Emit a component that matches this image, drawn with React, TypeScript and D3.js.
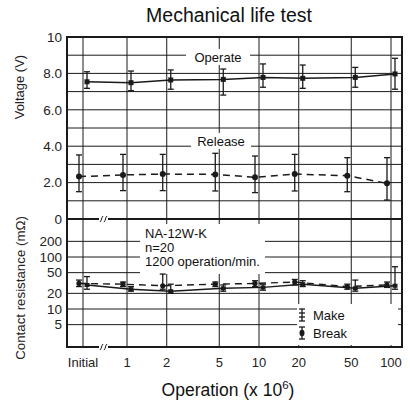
import React from "react";
import * as d3 from "d3";

const categories = ["Initial", "1", "2", "5", "10", "20", "50", "100"];
const opsValues = [null, 1, 2, 5, 10, 20, 50, 100];

const operateMean = [7.54, 7.49, 7.64, 7.67, 7.78, 7.73, 7.78, 7.97];
const operateLow = [7.18, 7.05, 7.13, 6.81, 7.24, 7.18, 7.24, 7.13];
const operateHigh = [8.09, 8.13, 8.19, 8.24, 8.52, 8.46, 8.33, 8.83];

const releaseMean = [2.33, 2.42, 2.47, 2.45, 2.29, 2.47, 2.38, 1.96];
const releaseLow = [1.5, 1.56, 1.56, 1.54, 1.45, 1.54, 1.5, 1.04];
const releaseHigh = [3.52, 3.55, 3.55, 3.61, 3.46, 3.55, 3.37, 3.37];

const makeMean = [29, 24, 22, 25, 26, 30, 25, 28];
const makeLow = [24, 22, 20, 22, 23, 27, 22, 24];
const makeHigh = [42, 27, 30, 29, 30, 35, 36, 65];

const breakMean = [31, 30, 28, 30, 31, 33, 27, 29];
const breakLow = [27, 27, 24, 27, 27, 29, 24, 26];
const breakHigh = [36, 33, 47, 33, 35, 37, 30, 33];

const voltTicks = [10, 8, 6, 4, 2, 0];
const voltTickLabels = ["10", "8.0", "6.0", "4.0", "2.0", "0"];
const voltGrid = [1, 2, 3, 4, 5, 6, 7, 8, 9];
const resTicks = [200, 100, 50, 20, 10, 5];

const FONT = "'Liberation Sans', Arial, sans-serif";
const INK = "#1a1a1a";

export default function App() {
  const left = 67, right = 402, top = 37, bottom = 347;
  const x = d3.scaleLog().domain([1, 100]).range([127, 391]);
  const xInitial = 83;
  const xPos = (i: number) => (opsValues[i] == null ? xInitial : x(opsValues[i] as number));
  const yV = d3.scaleLinear().domain([0, 10]).range([219, top]);
  const yR = d3.scaleLog().domain([10, 100]).range([309, 257]);

  const lineV = (vals: number[], off: number) =>
    d3.line<number>().x((_, i) => xPos(i) + off).y((d) => yV(d))(vals) as string;
  const lineR = (vals: number[], off: number) =>
    d3.line<number>().x((_, i) => xPos(i) + off).y((d) => yR(d))(vals) as string;

  const errBars = (lo: number[], hi: number[], y: (v: number) => number, off: number, key: string) =>
    lo.map((l, i) => {
      const cx = xPos(i) + off;
      return (
        <g key={key + i} stroke={INK} strokeWidth={1.3}>
          <line x1={cx} x2={cx} y1={y(l)} y2={y(hi[i])} />
          <line x1={cx - 3} x2={cx + 3} y1={y(l)} y2={y(l)} />
          <line x1={cx - 3} x2={cx + 3} y1={y(hi[i])} y2={y(hi[i])} />
        </g>
      );
    });

  return (
    <svg width={410} height={402} style={{ display: "block", position: "absolute", left: 0, top: 0 }} fontFamily={FONT}>
      <rect width={410} height={402} fill="#fff" />
      <text x={229} y={22} textAnchor="middle" fontSize={19.5} fill="#111">Mechanical life test</text>

      {/* gridlines */}
      <g stroke={INK} strokeWidth={1}>
        {categories.map((c, i) => (
          <line key={"vx" + c} x1={xPos(i)} x2={xPos(i)} y1={top} y2={bottom} />
        ))}
        {voltGrid.map((v) => (
          <line key={"vg" + v} x1={left} x2={right} y1={yV(v)} y2={yV(v)} />
        ))}
        {resTicks.map((v) => (
          <line key={"rg" + v} x1={left} x2={right} y1={yR(v)} y2={yR(v)} />
        ))}
      </g>

      {/* white label backgrounds */}
      <rect x={186} y={49} width={64} height={16} fill="#fff" />
      <rect x={191} y={133} width={60} height={16} fill="#fff" />
      <rect x={140} y={224} width={125} height={50} fill="#fff" />
      <rect x={297} y={304} width={101} height={41} fill="#fff" />

      {/* divider and frame */}
      <line x1={left} x2={right} y1={yV(0)} y2={yV(0)} stroke={INK} strokeWidth={2} />
      <rect x={left} y={top} width={right - left} height={bottom - top} fill="none" stroke={INK} strokeWidth={2} />

      {/* break marks */}
      {[yV(0), bottom].map((yy, k) => (
        <g key={"brk" + k} stroke={INK} strokeWidth={1}>
          <rect x={99} y={yy - 2} width={9} height={4} fill="#fff" stroke="none" />
          <path d={`M${100},${yy + 3} C${102},${yy + 1} ${101},${yy - 1} ${103},${yy - 3}`} fill="none" />
          <path d={`M${104},${yy + 3} C${106},${yy + 1} ${105},${yy - 1} ${107},${yy - 3}`} fill="none" />
        </g>
      ))}

      <text x={218} y={61.5} textAnchor="middle" fontSize={13} fill="#111">Operate</text>
      <text x={221} y={145.5} textAnchor="middle" fontSize={13} fill="#111">Release</text>
      <text x={145} y={238} fontSize={13} fill="#111">NA-12W-K</text>
      <text x={145} y={252} fontSize={13} fill="#111">n=20</text>
      <text x={145} y={266} fontSize={13} fill="#111">1200 operation/min.</text>

      {/* Operate */}
      <path d={lineV(operateMean, 4)} fill="none" stroke={INK} strokeWidth={1.5} />
      {errBars(operateLow, operateHigh, yV, 4, "op")}
      {operateMean.map((v, i) => (
        <rect key={"opm" + i} x={xPos(i) + 4 - 2.5} y={yV(v) - 2.5} width={5} height={5} fill={INK} />
      ))}

      {/* Release */}
      <path d={lineV(releaseMean, -4)} fill="none" stroke={INK} strokeWidth={1.5} strokeDasharray="7,5" />
      {errBars(releaseLow, releaseHigh, yV, -4, "re")}
      {releaseMean.map((v, i) => (
        <circle key={"rem" + i} cx={xPos(i) - 4} cy={yV(v)} r={3} fill={INK} />
      ))}

      {/* Contact resistance: Break (dashed), Make (solid) */}
      <path d={lineR(breakMean, -4)} fill="none" stroke={INK} strokeWidth={1.4} strokeDasharray="7,5" />
      <path d={lineR(makeMean, 4)} fill="none" stroke={INK} strokeWidth={1.4} />
      {errBars(breakLow, breakHigh, yR, -4, "bk")}
      {errBars(makeLow, makeHigh, yR, 4, "mk")}
      {breakMean.map((v, i) => (
        <circle key={"bkm" + i} cx={xPos(i) - 4} cy={yR(v)} r={2.6} fill={INK} />
      ))}
      {makeMean.map((v, i) => (
        <rect key={"mkm" + i} x={xPos(i) + 4 - 2.5} y={yR(v) - 2} width={5} height={4} fill={INK} />
      ))}

      {/* legend */}
      <g stroke={INK} strokeWidth={1.3}>
        <line x1={302} x2={302} y1={309} y2={321} />
        <line x1={299} x2={305} y1={309} y2={309} />
        <line x1={299} x2={305} y1={313} y2={313} />
        <line x1={299} x2={305} y1={317} y2={317} />
        <line x1={299} x2={305} y1={321} y2={321} />
        <line x1={302} x2={302} y1={327} y2={339} />
        <line x1={299} x2={305} y1={327} y2={327} />
        <line x1={299} x2={305} y1={339} y2={339} />
      </g>
      <ellipse cx={302} cy={333} rx={2.5} ry={3.2} fill={INK} />
      <text x={313} y={320} fontSize={13} fill="#111">Make</text>
      <text x={313} y={338} fontSize={13} fill="#111">Break</text>

      {/* y tick labels */}
      {voltTicks.map((v, i) => (
        <text key={"vt" + v} x={62} y={yV(v) + 4.8} textAnchor="end" fontSize={13.5} fill="#222">{voltTickLabels[i]}</text>
      ))}
      {resTicks.map((v) => (
        <text key={"rt" + v} x={62} y={yR(v) + 4.8} textAnchor="end" fontSize={13.5} fill="#222">{v}</text>
      ))}

      {/* x tick labels */}
      {categories.map((c, i) => (
        <text key={"xt" + c} x={xPos(i)} y={367} textAnchor="middle" fontSize={13} fill="#222">{c}</text>
      ))}

      <text transform="translate(24,87) rotate(-90)" textAnchor="middle" fontSize={13} fill="#222">Voltage (V)</text>
      <text transform="translate(25,288) rotate(-90)" textAnchor="middle" fontSize={13.3} fill="#222">Contact resistance (mΩ)</text>

      <text x={228} y={396} textAnchor="middle" fontSize={17.5} fill="#111">
        Operation (x 10<tspan dy={-7} fontSize={11.5}>6</tspan><tspan dy={7}>)</tspan>
      </text>
    </svg>
  );
}
